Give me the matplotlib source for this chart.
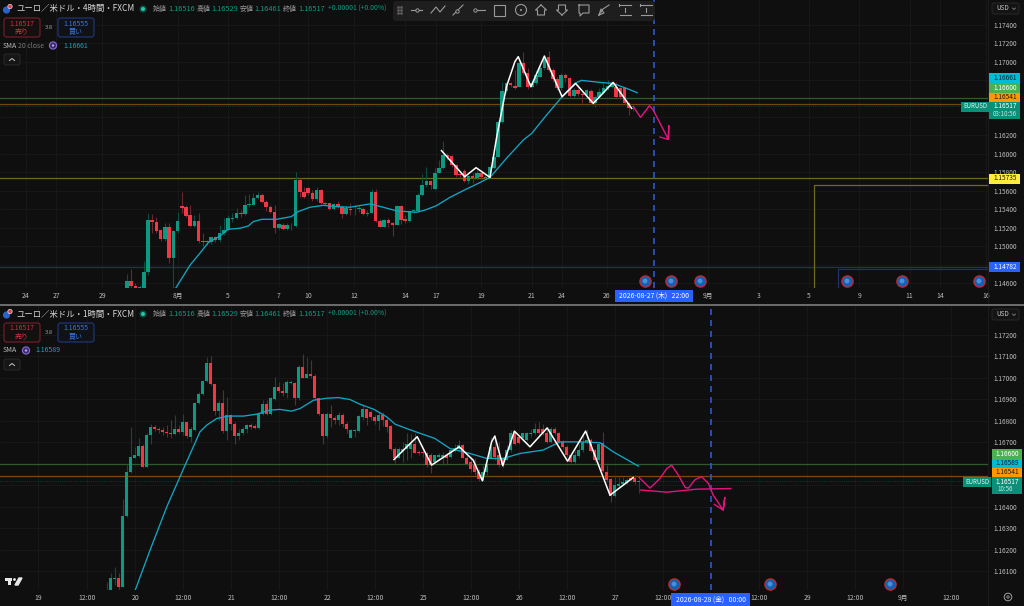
import numpy as np
import matplotlib
matplotlib.use('Agg')
import matplotlib.pyplot as plt
from matplotlib.patches import FancyBboxPatch, Rectangle, Circle

plt.rcParams['font.family'] = ['Noto Sans CJK JP', 'DejaVu Sans']

# 4 hour pane, prices in 1e-5 units
top_open = [114552,114627,114577,114552,114552,114721,115283,115269,115179,115078,115211,114880,115168,115442,115424,115337,115218,115280,115063,115056,115053,115100,115074,115143,115182,115298,115309,115359,115352,115445,115453,115528,115561,115485,115427,115377,115200,115236,115186,115236,115226,115723,115586,115629,115575,115510,115608,115467,115467,115406,115456,115424,115355,115409,115402,115402,115406,115352,115366,115593,115276,115211,115287,115251,115236,115438,115294,115280,115381,115384,115556,115661,115708,115617,115794,115844,115989,115974,115881,115780,115819,115711,115762,115736,115790,115747,115744,115844,115971,116349,116684,116763,116735,116727,116987,116872,116727,116763,116836,116926,117052,116908,116807,116709,116854,116825,116627,116691,116645,116637,116684,116547,116619,116663,116709,116727,116727,116717,116709,116547,116516]
top_close = [114627,114577,114552,114566,114721,115283,115269,115172,115078,115211,114880,115168,115276,115420,115334,115218,115280,115063,115053,115045,115100,115074,115143,115182,115305,115312,115359,115348,115453,115460,115528,115561,115482,115427,115377,115200,115240,115186,115236,115233,115723,115586,115536,115575,115510,115608,115467,115460,115406,115460,115424,115355,115413,115391,115409,115413,115352,115366,115593,115276,115211,115287,115251,115236,115438,115291,115280,115384,115395,115557,115664,115708,115664,115798,115844,115989,115971,115881,115772,115772,115708,115762,115736,115790,115747,115736,115855,115971,116349,116684,116763,116745,116717,116987,116872,116727,116763,116854,116926,117052,116908,116807,116709,116854,116825,116627,116691,116645,116637,116691,116554,116619,116673,116717,116735,116763,116612,116619,116547,116493,116517]
top_high = [114703,114754,114602,114584,114844,115366,115352,115316,115179,115258,115251,115179,115377,115590,115449,115449,115341,115359,115143,115071,115107,115114,115233,115305,115341,115366,115413,115395,115557,115568,115575,115593,115582,115503,115449,115449,115251,115251,115251,115251,115810,115737,115647,115640,115611,115647,115619,115482,115474,115474,115496,115449,115449,115467,115449,115438,115431,115395,115618,115618,115294,115294,115305,115269,115445,115449,115341,115395,115402,115582,115783,115862,115718,115844,115935,116140,116007,115989,115891,115808,115834,115772,115790,115826,115808,115772,115870,116007,116367,116782,116782,116782,116908,117016,117106,116926,116800,116908,116962,117059,117117,116926,116828,116872,116872,116836,116709,116709,116673,116699,116699,116637,116709,116763,116800,116782,116782,116727,116727,116565,116529]
top_low = [114552,114552,114545,114545,114552,114692,115143,115143,115063,115063,114818,114548,115143,115359,115323,115208,115208,115035,115006,115017,115027,115053,115053,115125,115179,115269,115294,115316,115341,115431,115445,115510,115467,115388,115359,115143,115179,115179,115179,115179,115215,115539,115521,115557,115496,115496,115460,115445,115395,115395,115413,115312,115341,115341,115341,115377,115341,115330,115359,115269,115208,115208,115215,115114,115229,115244,115258,115269,115359,115377,115545,115646,115617,115610,115790,115834,115935,115862,115754,115736,115700,115675,115689,115718,115725,115725,115736,115834,115963,116338,116655,116720,116699,116720,116854,116699,116720,116745,116828,116908,116890,116782,116691,116691,116782,116612,116612,116627,116547,116619,116540,116511,116601,116648,116691,116709,116601,116590,116529,116421,116461]

top_sma_x = [11.6,15.0,17.3,19.3,22.1,24.0,26.8,28.8,30.0,32.0,35.5,39.0,40.6,43.4,46.6,49.7,52.9,57.6,60.8,64.0,68.7,70.7,73.4,76.6,80.5,83.3,86.1,90.0,94.0,96.0,99.5,103.2,106.2,107.8,112.2,115.3,118.5,121.0]
top_sma_y = [114552,114800,114927,115042,115114,115186,115197,115222,115269,115294,115294,115323,115377,115424,115445,115431,115424,115460,115424,115384,115370,115394,115441,115531,115621,115682,115747,115953,116151,116223,116421,116619,116763,116796,116774,116763,116709,116663]
top_white_x = [74.6,80.1,82.8,86.1,87.7,90.0,92.0,92.8,95.8,99.0,103.2,106.4,110.6,115.3,119.7]
top_white_y = [116036,115754,115852,115747,116187,116727,116998,117052,116727,117059,116619,116763,116547,116774,116493]
top_pink_x = [120.1,121.8,123.9,124.8,128.4,128.5,128.4,126.4]
top_pink_y = [116511,116396,116522,116475,116158,116306,116158,116183]

top_levels = [1.16600, 1.16541, 1.15735, 1.14782]
top_level_colors = ['#2f5a2c', '#6e4a0c', '#6d6a1c', '#232f6a']
top_yticks = [1.146,1.148,1.150,1.152,1.154,1.156,1.158,1.160,1.162,1.164,1.166,1.168,1.170,1.172,1.174]
top_yhidden = [1.164, 1.166, 1.168]  # sit under the price tags
top_xticks = [-24.0,-16.8,-5.9,12.0,23.9,36.0,42.9,53.8,65.9,73.3,83.9,96.0,103.1,113.8,137.8,149.9,161.8,173.7,185.6,192.8,203.7]
top_xlabels = ['24','27','29','8月','5','7','10','12','14','17','19','21','24','26','9月','3','5','9','11','14','16']

# 1 hour pane
bot_open = [116000,116001,116064,116067,116027,116356,116562,116628,116636,116684,116585,116732,116768,116763,116755,116748,116743,116737,116763,116745,116794,116724,116755,116880,116923,116983,117069,116969,116844,116883,116751,116825,116786,116728,116740,116759,116779,116774,116766,116830,116875,116830,116901,116957,116938,116929,116976,116977,116903,117050,116999,117019,117007,116903,116830,116728,116830,116814,116802,116825,116786,116721,116752,116752,116817,116852,116841,116817,116796,116825,116802,116774,116670,116628,116659,116666,116667,116693,116655,116652,116647,116639,116608,116631,116631,116639,116631,116659,116670,116686,116628,116608,116593,116562,116523,116562,116628,116678,116639,116624,116619,116662,116740,116725,116717,116712,116737,116740,116763,116763,116743,116701,116763,116743,116701,116678,116639,116608,116635,116662,116701,116709,116662,116616,116697,116562,116526,116449,116495,116504,116512,116535,116535,116516]
bot_close = [116012,116066,116070,116027,116356,116562,116632,116638,116684,116585,116732,116768,116763,116755,116748,116740,116737,116763,116745,116794,116728,116759,116880,116926,116983,117069,116972,116844,116883,116751,116825,116786,116729,116740,116759,116779,116771,116766,116830,116875,116830,116903,116957,116938,116929,116979,116980,116903,117050,116999,117019,117008,116903,116830,116728,116830,116814,116802,116825,116786,116759,116756,116756,116821,116852,116814,116817,116796,116825,116802,116771,116670,116628,116666,116666,116693,116693,116650,116647,116647,116593,116593,116639,116639,116639,116628,116662,116673,116686,116628,116600,116577,116562,116526,116562,116600,116678,116631,116593,116593,116662,116740,116693,116697,116740,116740,116740,116763,116740,116743,116701,116763,116743,116701,116678,116639,116608,116639,116662,116701,116709,116659,116616,116693,116566,116523,116449,116500,116507,116515,116523,116523,116515,116517]
bot_high = [116050,116089,116120,116089,116433,116600,116768,116678,116721,116693,116740,116786,116779,116771,116771,116779,116802,116825,116779,116830,116794,116768,116887,116934,116988,117097,117100,116972,116898,116942,116910,116830,116794,116759,116771,116786,116790,116786,116836,116895,116895,116910,117003,116980,116976,116988,116988,116980,117058,117112,117097,117081,117019,116907,116833,116841,116872,116821,116841,116833,116794,116763,116763,116825,116872,116856,116848,116825,116841,116841,116814,116779,116678,116678,116701,116740,116737,116743,116662,116662,116655,116647,116642,116647,116655,116647,116670,116693,116709,116693,116639,116631,116624,116577,116593,116604,116725,116732,116701,116631,116686,116755,116748,116732,116743,116748,116763,116790,116794,116786,116755,116771,116771,116748,116712,116686,116647,116662,116693,116740,116763,116717,116670,116697,116748,116593,116535,116542,116538,116538,116535,116542,116546,116529]
bot_low = [115996,115996,116035,116004,116027,116352,116557,116624,116632,116582,116582,116690,116752,116743,116732,116724,116721,116732,116740,116732,116721,116701,116752,116876,116918,116980,116965,116825,116802,116740,116712,116755,116693,116709,116732,116740,116763,116763,116763,116825,116825,116825,116895,116929,116914,116907,116972,116872,116898,116996,116996,116996,116898,116825,116690,116721,116771,116786,116779,116768,116740,116717,116724,116748,116805,116779,116802,116786,116755,116774,116748,116662,116604,116624,116608,116616,116624,116647,116639,116631,116585,116554,116600,116616,116593,116593,116624,116655,116662,116624,116593,116562,116546,116520,116520,116539,116624,116619,116585,116585,116616,116655,116686,116690,116709,116706,116725,116732,116732,116732,116697,116697,116732,116697,116670,116631,116604,116600,116628,116655,116693,116655,116608,116608,116562,116515,116422,116446,116489,116500,116507,116517,116507,116461]

bot_sma_x = [6.9,10.8,15.0,19.2,23.3,25.0,27.5,30.4,34.2,37.5,40.8,43.3,46.2,48.3,51.7,55.0,57.9,60.8,63.3,66.7,70.0,72.1,76.6,82.0,85.8,90.8,95.0,99.1,103.3,109.1,113.3,118.3,123.3,126.6,132.9]
bot_sma_y = [116001,116197,116399,116577,116748,116779,116810,116821,116821,116830,116849,116852,116844,116856,116895,116904,116907,116898,116876,116853,116817,116783,116752,116717,116670,116647,116624,116624,116647,116663,116701,116701,116697,116655,116588]
bot_white_x = [71.8,77.6,81.2,88.1,91.6,93.9,96.2,97.0,99.0,101.9,105.8,110.1,115.2,119.7,125.8,131.6]
bot_white_y = [116619,116725,116593,116678,116616,116520,116701,116728,116590,116751,116678,116766,116611,116751,116453,116535]
bot_pink_x = [133.1,135.8,138.3,140.0,141.2,142.9,144.6,145.4,147.1,148.7,150.4,151.6,154.1,154.5,154.1,151.9]
bot_pink_y = [116535,116486,116531,116577,116593,116546,116489,116486,116526,116539,116508,116453,116384,116442,116384,116410]
bot_flat_x = [133.5,140.0,147.5,156.0]
bot_flat_y = [116477,116467,116481,116484]

bot_levels = [1.16600, 1.16541]
bot_level_colors = ['#2f5a2c', '#7a4c0c']
bot_yticks = [1.161,1.162,1.163,1.164,1.165,1.166,1.167,1.168,1.169,1.170,1.171,1.172]
bot_yhidden = [1.165, 1.166]
bot_xticks = [-17.2,-4.9,7.1,19.1,31.1,43.1,55.1,67.1,79.1,91.1,103.1,115.1,127.1,139.1,163.1,175.1,187.1,199.1,211.1]
bot_xlabels = ['19','12:00','20','12:00','21','12:00','22','12:00','25','12:00','26','12:00','27','12:00','12:00','29','12:00','9月','12:00']

BG = '#0f0f0f'
GREEN = '#0b9981'
RED = '#f23645'
TICK = '#bcbcbc'
DASH = '#2f58cc'


def draw_candles(ax, opens, highs, lows, closes, width=0.84):
    o = np.array(opens) / 1e5
    h = np.array(highs) / 1e5
    l = np.array(lows) / 1e5
    c = np.array(closes) / 1e5
    x = np.arange(len(o))
    up = c >= o
    ax.vlines(x[up], l[up], h[up], color='#0d4c42', lw=0.8, zorder=2)
    ax.vlines(x[~up], l[~up], h[~up], color='#6e2530', lw=0.8, zorder=2)
    heights = np.maximum(np.abs(c - o), 0.00004)
    ax.bar(x[up], heights[up], bottom=o[up], width=width, color=GREEN, lw=0, zorder=3)
    ax.bar(x[~up], -heights[~up], bottom=o[~up], width=width, color=RED, lw=0, zorder=3)


def style_pane(ax, xlim, ylim, xticks, xlabels, yticks, yhidden, xpad):
    ax.set_facecolor(BG)
    ax.set_xlim(*xlim)
    ax.set_ylim(*ylim)
    for s in ax.spines.values():
        s.set_visible(False)
    ax.yaxis.tick_right()
    ax.set_yticks(yticks, ['' if v in yhidden else f'{v:.5f}' for v in yticks])
    ax.set_xticks(xticks, xlabels)
    ax.tick_params(axis='y', length=0, pad=4.2, labelsize=4.7, labelcolor=TICK)
    ax.tick_params(axis='x', length=0, pad=xpad, labelsize=4.9, labelcolor=TICK)
    ax.grid(True, color='#191919', lw=0.6, zorder=0)
    ax.set_axisbelow(True)


fig = plt.figure(figsize=(10.24, 6.06), dpi=100, facecolor=BG)

# ---- top pane ----
ax1 = fig.add_axes([0, 1 - 288 / 606, 988 / 1024, 288 / 606])
style_pane(ax1, (-30.1, 204.2), (1.14551, 1.17665), top_xticks, top_xlabels, top_yticks, top_yhidden, 3.2)
for lvl, col in zip(top_levels, top_level_colors):
    ax1.axhline(lvl, color=col, lw=0.9, zorder=1)
ax1.axhline(1.16517, color='#0d4c42', lw=0.6, ls=':', zorder=1)
# second yellow / blue boxes on the right
ax1.plot([162.9, 162.9, 204.2], [1.14551, 1.15662, 1.15662], color='#6d6a1c', lw=0.9, zorder=1)
ax1.plot([168.6, 168.6, 204.2], [1.14551, 1.14755, 1.14755], color='#232f6a', lw=0.9, zorder=1)
draw_candles(ax1, top_open, top_high, top_low, top_close)
ax1.plot(top_sma_x, np.array(top_sma_y) / 1e5, color='#12a5c4', lw=0.95, zorder=4)
ax1.plot(top_white_x, np.array(top_white_y) / 1e5, color='white', lw=1.1, zorder=5)
ax1.plot(top_pink_x, np.array(top_pink_y) / 1e5, color='#e6137f', lw=1.0, zorder=5)
ax1.axvline(125, color=DASH, lw=1.2, ls=(0, (3.6, 3)), zorder=4)

# ---- bottom pane ----
ax2 = fig.add_axes([0, 1 - 590 / 606, 988 / 1024, 284 / 606])
style_pane(ax2, (-26.7, 220.3), (1.16012, 1.17333), bot_xticks, bot_xlabels, bot_yticks, bot_yhidden, 2.6)
for lvl, col in zip(bot_levels, bot_level_colors):
    ax2.axhline(lvl, color=col, lw=0.9, zorder=1)
ax2.axhline(1.16517, color='#0d4c42', lw=0.6, ls=':', zorder=1)
draw_candles(ax2, bot_open, bot_high, bot_low, bot_close)
ax2.plot(bot_sma_x, np.array(bot_sma_y) / 1e5, color='#12a5c4', lw=0.95, zorder=4)
ax2.plot(bot_white_x, np.array(bot_white_y) / 1e5, color='white', lw=1.1, zorder=5)
ax2.plot(bot_pink_x, np.array(bot_pink_y) / 1e5, color='#e6137f', lw=1.0, zorder=5)
ax2.plot(bot_flat_x, np.array(bot_flat_y) / 1e5, color='#e6137f', lw=1.0, zorder=5)
ax2.axvline(151, color=DASH, lw=1.2, ls=(0, (3.6, 3)), zorder=4)

# ---- chrome overlay in pixel coordinates ----
ov = fig.add_axes([0, 0, 1, 1], zorder=10)
ov.set_xlim(0, 1024)
ov.set_ylim(606, 0)
ov.axis('off')
ov.patch.set_alpha(0)


def txt(x, y, s, color=TICK, size=4.9, ha='left', weight='normal'):
    ov.text(x, y, s, color=color, fontsize=size, ha=ha, va='center', fontweight=weight, zorder=20)


def box(x0, y0, x1, y1, fc, ec='none', lw=0.8, r=0.0):
    if r:
        p = FancyBboxPatch((x0 + r, y0 + r), x1 - x0 - 2 * r, y1 - y0 - 2 * r,
                           boxstyle=f'round,pad={r},rounding_size={r}', fc=fc, ec=ec, lw=lw, zorder=15)
    else:
        p = Rectangle((x0, y0), x1 - x0, y1 - y0, fc=fc, ec=ec, lw=lw, zorder=15)
    ov.add_patch(p)


def header(dy, title, sma_parts, sma_val, icon_x, val_x):
    # symbol flag and title
    ov.add_patch(Circle((6.5, 10 + dy), 3.6, fc='#2962c8', zorder=16))
    ov.add_patch(Circle((10, 6.5 + dy), 2.2, fc='#e04050', ec='white', lw=0.4, zorder=17))
    txt(16, 9 + dy, title, color='#d8d8d8', size=6.0)
    ov.add_patch(Circle((143, 9 + dy), 3.6, fc='#0e4a40', zorder=16))
    ov.add_patch(Circle((143, 9 + dy), 2.0, fc='#26c6a6', zorder=17))
    for lx, lab, vx, val in [(153, '始値', 168, '1.16516'), (197, '高値', 211, '1.16529'),
                             (240, '安値', 254, '1.16461'), (283, '終値', 298, '1.16517')]:
        txt(lx, 9 + dy, lab, color='#9a9a9a', size=5.0)
        txt(vx, 9 + dy, val, color='#0e9a80', size=5.3)
    txt(328, 9 + dy, '+0.00001 (+0.00%)', color='#0e9a80', size=5.0)
    # sell / buy
    box(4, 18 + dy, 40, 37 + dy, '#141010', '#7a1f2b', 0.8, 2.5)
    txt(22, 23.5 + dy, '1.16517', color='#d03040', size=5.0, ha='center')
    txt(22, 31.5 + dy, '売り', color='#d03040', size=5.0, ha='center')
    txt(49, 27.5 + dy, '3.8', color='#a0a0a0', size=4.2, ha='center')
    box(58, 18 + dy, 94, 37 + dy, '#101218', '#1f3a7a', 0.8, 2.5)
    txt(76, 23.5 + dy, '1.16555', color='#3a78e0', size=5.0, ha='center')
    txt(76, 31.5 + dy, '買い', color='#3a78e0', size=5.0, ha='center')
    # SMA row
    x = 3
    for s, c, w in sma_parts:
        txt(x, 45.5 + dy, s, color=c, size=5.0)
        x += w
    ov.add_patch(Circle((icon_x, 45.5 + dy), 3.6, fc='#3a2a66', ec='#8a6ad8', lw=0.8, zorder=16))
    ov.add_patch(Circle((icon_x, 45.5 + dy), 1.2, fc='#b8a0f0', zorder=17))
    txt(val_x, 45.5 + dy, sma_val, color='#12a5c4', size=5.0)
    # collapse button
    box(4, 54 + dy, 20, 65 + dy, '#161616', '#2c2c2c', 0.6, 2)
    ov.plot([9.5, 12, 14.5], [60.5 + dy, 58.5 + dy, 60.5 + dy], color='#c8c8c8', lw=0.7, zorder=18)


header(0, 'ユーロ／米ドル・4時間・FXCM', [('SMA', '#b8b8b8', 15), ('20 close', '#7a7a7a', 0)], '1.16661', 53, 63)
header(305, 'ユーロ／米ドル・1時間・FXCM', [('SMA', '#b8b8b8', 0)], '1.16589', 26, 35)

# USD buttons
for dy in (0, 306):
    box(992, 3 + dy, 1019, 14 + dy, '#141414', '#2c2c2c', 0.6, 2)
    txt(996, 8.5 + dy, 'USD', color='#c8c8c8', size=4.6, ha='left')
    ov.plot([1012.5, 1014, 1015.5], [8 + dy, 9.5 + dy, 8 + dy], color='#9a9a9a', lw=0.5, zorder=18)

# drawing toolbar
box(393, 1, 655, 21, '#1e1e1e', 'none', 0, 3)
IC = '#9a9a9a'
ic_kw = dict(color=IC, lw=0.8, zorder=18)
for gx in (398, 401):
    for gy in (7, 10, 13):
        ov.plot([gx], [gy], 's', ms=0.9, color='#5c5c5c', zorder=18)
ov.plot([411, 422], [10, 10], **ic_kw)
ov.plot([416.5], [10], 'o', ms=2.4, mfc='#1e1e1e', mec=IC, mew=0.7, zorder=19)
ov.plot([431, 436, 440, 445], [13, 7, 12, 6], **ic_kw)
ov.plot([453, 463], [15, 5], **ic_kw)
ov.plot([457], [11], 'o', ms=2.4, mfc='#1e1e1e', mec=IC, mew=0.7, zorder=19)
ov.plot([474, 485], [10, 10], **ic_kw)
ov.plot([475], [10], 'o', ms=2.4, mfc='#1e1e1e', mec=IC, mew=0.7, zorder=19)
ov.add_patch(Rectangle((494, 5), 11, 11, fc='none', ec=IC, lw=0.8, zorder=18))
ov.add_patch(Circle((521, 10), 5.5, fc='none', ec=IC, lw=0.8, zorder=18))
ov.add_patch(Circle((521, 10), 1, fc=IC, zorder=18))
ov.plot([541, 546.5, 544.5, 544.5, 537.5, 537.5, 535.5, 541],
        [5, 10, 10, 15, 15, 10, 10, 5], **ic_kw)
ov.plot([562, 567.5, 565.5, 565.5, 558.5, 558.5, 556.5, 562],
        [15, 10, 10, 5, 5, 10, 10, 15], **ic_kw)
ov.plot([579, 579, 580, 580, 583, 589, 589, 579], [5, 13, 13, 16, 13, 13, 5, 5], **ic_kw)
ov.plot([599, 603, 609], [15, 9, 5], **ic_kw)
ov.plot([599, 604, 601, 599], [15, 13, 9, 15], **ic_kw)
for x0 in (620, 641):
    ov.plot([x0, x0 + 11], [5, 5], **ic_kw)
    ov.plot([x0, x0 + 11], [15, 15], **ic_kw)
    ov.plot([x0 + 5, x0 + 5], [8, 12], **ic_kw)
    ov.plot([x0 - 1, x0 - 1], [4, 6], **ic_kw)

# price tags, top pane
box(989, 73, 1020, 83, '#00bcd4')
txt(1005, 78, '1.16661', color='#10202a', size=4.7, ha='center')
box(989, 83, 1020, 92.5, '#4caf50')
txt(1005, 87.8, '1.16600', color='#ffffff', size=4.7, ha='center')
box(989, 92.5, 1020, 101.5, '#ff9800')
txt(1005, 97, '1.16541', color='#1a1a10', size=4.7, ha='center')
box(961, 101.5, 988.5, 111.5, '#0a8f78')
txt(975, 106.5, 'EURUSD', color='#e8f4f0', size=4.4, ha='center')
box(989, 101.5, 1020, 119, '#0a8f78')
txt(1005, 106.5, '1.16517', color='#ffffff', size=4.7, ha='center')
txt(1005, 114.5, '03:10:56', color='#bfe6dc', size=4.5, ha='center')
box(989, 173.5, 1020, 183.5, '#ffeb3b')
txt(1005, 178.5, '1.15735', color='#1a1a10', size=4.7, ha='center')
box(989, 262, 1020, 272, '#2962ff')
txt(1005, 267, '1.14782', color='#ffffff', size=4.7, ha='center')

# price tags, bottom pane
box(992, 449, 1022, 458.5, '#4caf50')
txt(1007, 453.8, '1.16600', color='#ffffff', size=4.7, ha='center')
box(992, 458.5, 1022, 468, '#00bcd4')
txt(1007, 463, '1.16589', color='#10202a', size=4.7, ha='center')
box(992, 468, 1022, 477, '#ff9800')
txt(1007, 472.5, '1.16541', color='#1a1a10', size=4.7, ha='center')
box(963, 476.5, 991, 486.5, '#0a8f78')
txt(977, 481.5, 'EURUSD', color='#e8f4f0', size=4.4, ha='center')
box(992, 477, 1022, 494, '#0a8f78')
txt(1007, 481.5, '1.16517', color='#ffffff', size=4.7, ha='center')
txt(1005, 489, '10:56', color='#bfe6dc', size=4.5, ha='center')

# crosshair date boxes
box(615, 290, 693, 302, '#2962ff')
txt(654, 296, '2026-08-27 (木)   22:00', color='#ffffff', size=4.9, ha='center')
box(671, 593, 750, 606, '#2962ff')
txt(710.5, 599.5, '2026-08-28 (金)   00:00', color='#ffffff', size=4.9, ha='center')

# event markers
marker_x = [645, 671, 700, 847, 902, 979, 674, 770, 890]
marker_y = [281, 281, 281, 281, 281, 281, 584, 584, 584]
ov.scatter(marker_x, marker_y, s=66, fc='#1a5fb4', ec='#c62828', lw=0.9, zorder=17)
ov.scatter(marker_x, marker_y, s=12, fc='#4a90d8', ec='none', zorder=18)

# pane separator and borders
ov.add_patch(Rectangle((0, 304), 1024, 1.6, fc='#6a6a6a', ec='none', zorder=14))
ov.plot([988, 988], [0, 304], color='#1e1e1e', lw=0.6, zorder=3)
ov.plot([988, 988], [306, 606], color='#1e1e1e', lw=0.6, zorder=3)

# logo and settings icon
ov.add_patch(Rectangle((5, 578), 7, 2.5, fc='#e8e8e8', zorder=16))
ov.add_patch(Rectangle((8, 578), 3, 7, fc='#e8e8e8', zorder=16))
ov.add_patch(Circle((14.5, 579.5), 1.4, fc='#e8e8e8', zorder=16))
ov.fill([15, 19, 22, 18], [585, 578, 578, 585], color='#e8e8e8', zorder=16)
ov.add_patch(Circle((1008, 597), 3.8, fc='none', ec='#a0a0a0', lw=0.7, zorder=16))
ov.add_patch(Circle((1008, 597), 1.2, fc='none', ec='#a0a0a0', lw=0.6, zorder=16))

fig.savefig('out.png', dpi=100, facecolor=BG)
print('saved out.png')
